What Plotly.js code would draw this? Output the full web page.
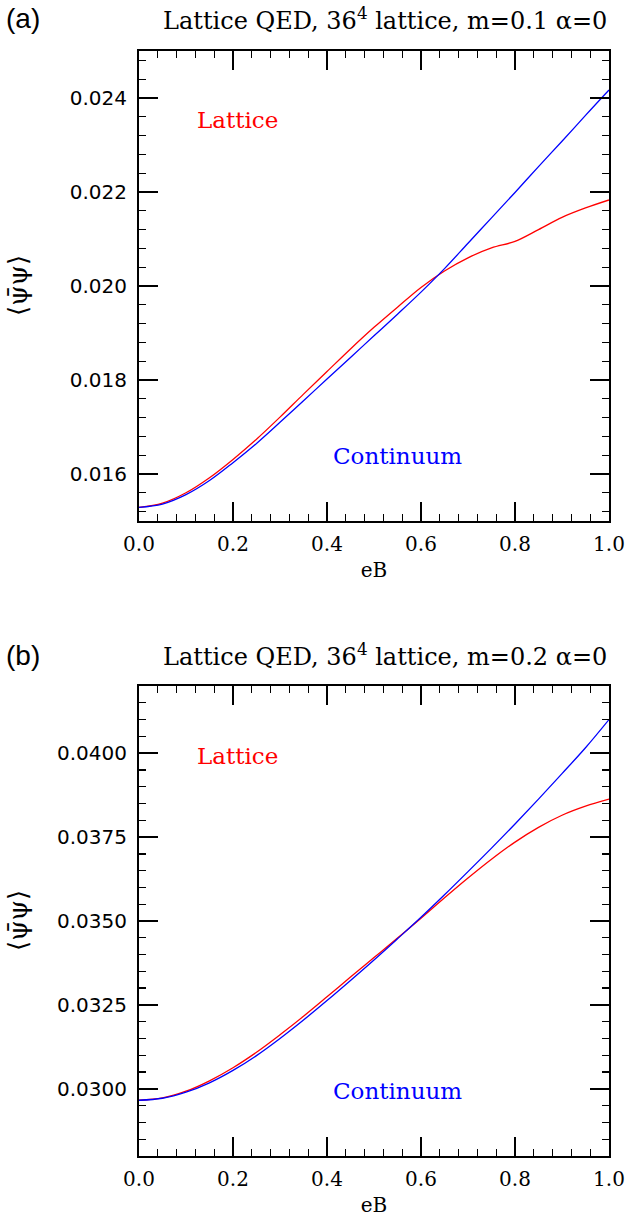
<!DOCTYPE html>
<html>
<head>
<meta charset="utf-8">
<script src="https://cdn.plot.ly/plotly-3.0.1.min.js"></script>
<style>html,body{margin:0;padding:0;background:#fff;}#chart{width:626px;height:1224px;}</style>
</head>
<body>
<div id="chart"></div>
<script>
// eB values
const eB = [0, 0.05, 0.1, 0.15, 0.2, 0.25, 0.3, 0.35, 0.4, 0.45, 0.5, 0.55, 0.6, 0.65, 0.7, 0.75, 0.8, 0.85, 0.9, 0.95, 1.0];

// Panel (a): m = 0.1
const latticeA   = [0.01529, 0.01538, 0.01560, 0.01592, 0.01631, 0.01674, 0.01721, 0.01770, 0.01818, 0.01866, 0.01912, 0.01955, 0.01997, 0.02032, 0.02060, 0.02081, 0.02095, 0.02120, 0.02146, 0.02166, 0.02183];
const continuumA = [0.01529, 0.01536, 0.01556, 0.01586, 0.01624, 0.01665, 0.01710, 0.01756, 0.01802, 0.01848, 0.01894, 0.01940, 0.01987, 0.02037, 0.02091, 0.02145, 0.02199, 0.02254, 0.02308, 0.02363, 0.02417];

// Panel (b): m = 0.2
const latticeB   = [0.02966, 0.02973, 0.02993, 0.03024, 0.03063, 0.03109, 0.03161, 0.03216, 0.03274, 0.03333, 0.03391, 0.03449, 0.03508, 0.03569, 0.03628, 0.03684, 0.03735, 0.03779, 0.03815, 0.03842, 0.03863];
const continuumB = [0.02966, 0.02972, 0.02990, 0.03018, 0.03055, 0.03099, 0.03150, 0.03205, 0.03263, 0.03323, 0.03384, 0.03447, 0.03511, 0.03578, 0.03647, 0.03717, 0.03789, 0.03863, 0.03939, 0.04016, 0.04100];

const titles = ["Lattice QED, 36<sup>4</sup> lattice, m=0.1 \u03b1=0", "Lattice QED, 36<sup>4</sup> lattice, m=0.2 \u03b1=0"];
const panelLabels = ["(a)", "(b)"];
const xTitle = "eB";
const yTitle = "\u27e8\u03c8\u0304\u03c8\u27e9";

const SERIF = "DejaVu Serif, serif";
const SANS = "Liberation Sans, Arial, sans-serif";
const YSANS = "DejaVu Sans, sans-serif";

const traces = [
  {x: eB, y: latticeA, xaxis: 'x', yaxis: 'y', mode: 'lines', line: {color: '#ff0000', width: 1.3, shape: 'spline'}, name: 'Lattice'},
  {x: eB, y: continuumA, xaxis: 'x', yaxis: 'y', mode: 'lines', line: {color: '#0000ff', width: 1.3, shape: 'spline'}, name: 'Continuum'},
  {x: eB, y: latticeB, xaxis: 'x2', yaxis: 'y2', mode: 'lines', line: {color: '#ff0000', width: 1.3, shape: 'spline'}, name: 'Lattice'},
  {x: eB, y: continuumB, xaxis: 'x2', yaxis: 'y2', mode: 'lines', line: {color: '#0000ff', width: 1.3, shape: 'spline'}, name: 'Continuum'}
];

function xax(anchor) {
  return {
    anchor: anchor, domain: [0, 1], range: [0, 1], dtick: 0.2, tick0: 0, tickformat: '.1f',
    ticks: 'inside', ticklen: 19, tickwidth: 1.3, tickcolor: '#000',
    minor: {dtick: 0.04, ticklen: 7, tickwidth: 1.3, tickcolor: '#000', ticks: 'inside'},
    showline: true, linecolor: '#000', linewidth: 2, mirror: 'allticks',
    showgrid: false, zeroline: false,
    tickfont: {family: SERIF, size: 20, color: '#000'},
    ticklabelstandoff: 4,
    title: {text: xTitle, font: {family: SERIF, size: 20, color: '#000'}, standoff: 8}
  };
}
function yax(anchor, dom, range, dtick, tick0, fmt, minor) {
  return {
    anchor: anchor, domain: dom, range: range, dtick: dtick, tick0: tick0, tickformat: fmt,
    ticks: 'inside', ticklen: 19, tickwidth: 1.3, tickcolor: '#000',
    minor: {dtick: minor, ticklen: 7, tickwidth: 1.3, tickcolor: '#000', ticks: 'inside'},
    showline: true, linecolor: '#000', linewidth: 2, mirror: 'allticks',
    showgrid: false, zeroline: false,
    tickfont: {family: YSANS, size: 20, color: '#000'},
    ticklabelstandoff: 6
  };
}

// pixel helpers for annotation placement (plot area: x 139..609, y 51..1156)
const px = v => (v - 139) / 470;
const py = v => (1156 - v) / 1105;

const layout = {
  width: 626, height: 1224,
  margin: {l: 139, r: 17, t: 51, b: 68},
  paper_bgcolor: '#fff', plot_bgcolor: '#fff',
  showlegend: false,
  xaxis: xax('y'),
  yaxis: yax('x', [py(521), 1], [0.015, 0.025], 0.002, 0.016, '.3f', 0.0004),
  xaxis2: xax('y2'),
  yaxis2: yax('x2', [0, py(686)], [0.028, 0.042], 0.0025, 0.03, '.4f', 0.0005),
  annotations: [
    {xref: 'paper', yref: 'paper', x: px(385), y: py(19), text: titles[0], showarrow: false, xanchor: 'center', yanchor: 'middle', font: {family: SERIF, size: 24, color: '#000'}},
    {xref: 'paper', yref: 'paper', x: px(385), y: py(655), text: titles[1], showarrow: false, xanchor: 'center', yanchor: 'middle', font: {family: SERIF, size: 24, color: '#000'}},
    {xref: 'paper', yref: 'paper', x: px(23), y: py(18), text: panelLabels[0], showarrow: false, xanchor: 'center', yanchor: 'middle', font: {family: SANS, size: 28, color: '#000'}},
    {xref: 'paper', yref: 'paper', x: px(23), y: py(655), text: panelLabels[1], showarrow: false, xanchor: 'center', yanchor: 'middle', font: {family: SANS, size: 28, color: '#000'}},
    {xref: 'paper', yref: 'paper', x: px(18), y: py(286), text: yTitle, showarrow: false, textangle: -90, xanchor: 'center', yanchor: 'middle', font: {family: SERIF, size: 26, color: '#000'}},
    {xref: 'paper', yref: 'paper', x: px(18), y: py(921), text: yTitle, showarrow: false, textangle: -90, xanchor: 'center', yanchor: 'middle', font: {family: SERIF, size: 26, color: '#000'}},
    {xref: 'x', yref: 'y', x: 0.21, y: 0.02353, text: 'Lattice', showarrow: false, font: {family: SERIF, size: 23, color: '#ff0000'}},
    {xref: 'x', yref: 'y', x: 0.551, y: 0.01638, text: 'Continuum', showarrow: false, font: {family: SERIF, size: 23, color: '#0000ff'}},
    {xref: 'x2', yref: 'y2', x: 0.21, y: 0.03992, text: 'Lattice', showarrow: false, font: {family: SERIF, size: 23, color: '#ff0000'}},
    {xref: 'x2', yref: 'y2', x: 0.551, y: 0.02994, text: 'Continuum', showarrow: false, font: {family: SERIF, size: 23, color: '#0000ff'}}
  ]
};

Plotly.newPlot('chart', traces, layout, {displayModeBar: false, staticPlot: true});
</script>
</body>
</html>
